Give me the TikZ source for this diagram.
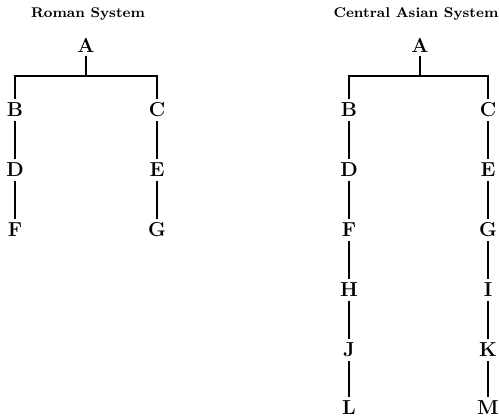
\documentclass[tikz,border=0pt]{standalone}
\tikzset{
    letter/.style={font=\fontsize{11.5}{14}\selectfont\bfseries, inner sep=2pt},
    systitle/.style={font=\fontsize{8}{10}\selectfont\bfseries}
}
\begin{document}
\begin{tikzpicture}[x=0.02cm,y=-0.02cm,line width=0.6pt]
\useasboundingbox (0,0) rectangle (499,418);

\node[systitle] (T1) at (88,14){Roman System};
\node[systitle] (T2) at (416,14){Central Asian System};

\node[letter] (rA) at (86,45){A};
\foreach \n/\y in {B/110, D/170, F/230}
{
    \node[letter] (r\n) at (15,\y){\n};
}
\foreach \n/\y in {C/110, E/170, G/230}
{
    \node[letter] (r\n) at (157,\y){\n};
}

\node[letter] (cA) at (420,45){A};
\foreach \n/\y in {B/110, D/170, F/230, H/290, J/350, L/408}
{
    \node[letter] (c\n) at (349,\y){\n};
}
\foreach \n/\y in {C/110, E/170, G/230, I/290, K/350, M/408}
{
    \node[letter] (c\n) at (488,\y){\n};
}

\coordinate (bar) at (0,76);

\draw(rA)--(rA |- bar);
\draw(rB)--(rB |- bar)--(rC |- bar)--(rC);
\draw(rB)--(rD)--(rF);
\draw(rC)--(rE)--(rG);

\draw(cA)--(cA |- bar);
\draw(cB)--(cB |- bar)--(cC |- bar)--(cC);
\draw(cB)--(cD)--(cF)--(cH)--(cJ)--(cL);
\draw(cC)--(cE)--(cG)--(cI)--(cK)--(cM);

\end{tikzpicture}
\end{document}
